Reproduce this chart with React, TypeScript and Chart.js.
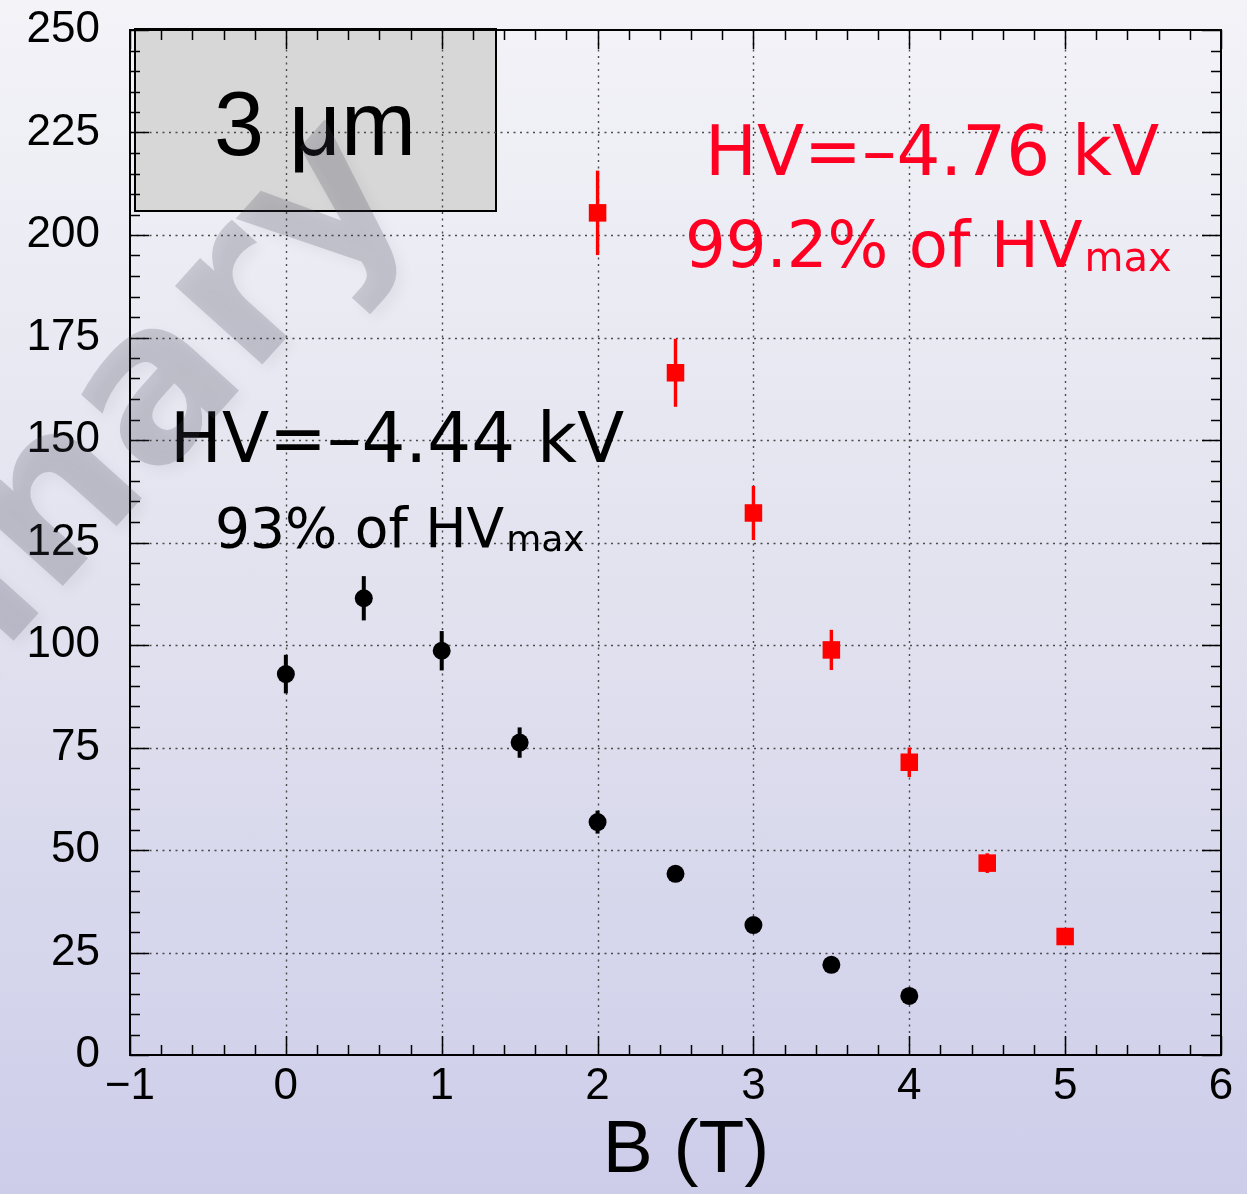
import React, { useEffect, useRef } from 'react';
import { Chart, registerables } from 'chart.js';

Chart.register(...registerables);

// ---- data ----
const blackB = [0, 0.5, 1, 1.5, 2, 2.5, 3, 3.5, 4];
const blackVal = [92.9, 111.4, 98.6, 76.2, 56.8, 44.2, 31.7, 22.0, 14.4];
const blackErr = [4.7, 5.4, 4.8, 3.7, 2.8, 1.8, 1.6, 1.3, 1.1];

const redB = [2, 2.5, 3, 3.5, 4, 4.5, 5];
const redVal = [205.4, 166.4, 132.2, 98.8, 71.4, 46.8, 28.9];
const redErr = [10.3, 8.3, 6.6, 4.9, 3.6, 2.4, 2.0];

const xRange = [-1, 6];
const yRange = [0, 250];
const xStep = 1;
const yStep = 25;
const minorDiv = 5;

const xTitle = 'B (T)';
const boxLabel = '3 \u03bcm';
const blackLabel1 = 'HV=\u20134.44 kV';
const blackLabel2 = '93% of HV';
const redLabel1 = 'HV=\u20134.76 kV';
const redLabel2 = '99.2% of HV';
const subLabel = 'max';
const watermark = 'Preliminary';

const TICK_FONT = '"Liberation Sans", Arial, sans-serif';
const ANN_FONT = '"DejaVu Sans", sans-serif';

const decorPlugin = {
  id: 'decor',
  beforeDatasetsDraw(chart: any) {
    const { ctx, chartArea: ca, scales } = chart;
    const x = scales.x;
    const y = scales.y;
    ctx.save();
    // label box
    ctx.fillStyle = '#d7d7d7';
    ctx.fillRect(ca.left + 5, ca.top - 1, 361, 182);
    ctx.strokeStyle = '#000';
    ctx.lineWidth = 2;
    ctx.strokeRect(ca.left + 5, ca.top - 1, 361, 182);

    // dotted grid
    ctx.strokeStyle = '#4a4a4a';
    ctx.lineWidth = 1.4;
    ctx.setLineDash([2, 4.5]);
    for (let v = xRange[0] + xStep; v < xRange[1]; v += xStep) {
      const px = Math.round(x.getPixelForValue(v)) + 0.5;
      ctx.beginPath();
      ctx.moveTo(px, ca.top);
      ctx.lineTo(px, ca.bottom);
      ctx.stroke();
    }
    for (let v = yRange[0] + yStep; v < yRange[1]; v += yStep) {
      const py = Math.round(y.getPixelForValue(v)) + 0.5;
      ctx.beginPath();
      ctx.moveTo(ca.left, py);
      ctx.lineTo(ca.right, py);
      ctx.stroke();
    }
    ctx.setLineDash([]);

    // error bars
    const drawErr = (xs: number[], vs: number[], es: number[], color: string, w: number) => {
      ctx.strokeStyle = color;
      ctx.lineWidth = w;
      xs.forEach((xv, i) => {
        const px = x.getPixelForValue(xv);
        ctx.beginPath();
        ctx.moveTo(px, y.getPixelForValue(vs[i] - es[i]));
        ctx.lineTo(px, y.getPixelForValue(vs[i] + es[i]));
        ctx.stroke();
      });
    };
    drawErr(blackB, blackVal, blackErr, '#000', 4);
    drawErr(redB, redVal, redErr, '#ff0000', 3.4);
    ctx.restore();
  },
  afterDatasetsDraw(chart: any) {
    const { ctx, chartArea: ca, scales } = chart;
    const x = scales.x;
    const y = scales.y;
    ctx.save();
    ctx.strokeStyle = '#000';
    ctx.lineWidth = 1.5;
    const major = 19;
    const minor = 10;
    const xMinorStep = xStep / minorDiv;
    for (let k = 0; k <= Math.round((xRange[1] - xRange[0]) / xMinorStep); k++) {
      const v = xRange[0] + k * xMinorStep;
      const len = k % minorDiv === 0 ? major : minor;
      const px = Math.round(x.getPixelForValue(v)) + 0.5;
      ctx.beginPath();
      ctx.moveTo(px, ca.bottom);
      ctx.lineTo(px, ca.bottom - len);
      ctx.moveTo(px, ca.top);
      ctx.lineTo(px, ca.top + len);
      ctx.stroke();
    }
    const yMinorStep = yStep / minorDiv;
    for (let k = 0; k <= Math.round((yRange[1] - yRange[0]) / yMinorStep); k++) {
      const v = yRange[0] + k * yMinorStep;
      const len = k % minorDiv === 0 ? major : minor;
      const py = Math.round(y.getPixelForValue(v)) + 0.5;
      ctx.beginPath();
      ctx.moveTo(ca.left, py);
      ctx.lineTo(ca.left + len, py);
      ctx.moveTo(ca.right, py);
      ctx.lineTo(ca.right - len, py);
      ctx.stroke();
    }
    // frame
    ctx.lineWidth = 2;
    ctx.strokeRect(ca.left, ca.top, ca.right - ca.left, ca.bottom - ca.top);

    // box text
    ctx.fillStyle = '#000';
    ctx.textAlign = 'center';
    ctx.textBaseline = 'alphabetic';
    ctx.font = `90px ${TICK_FONT}`;
    ctx.fillText(boxLabel, ca.left + 5 + 180, ca.top + 125);

    // axis title
    ctx.font = `75px ${TICK_FONT}`;
    ctx.fillText(xTitle, 686, ca.bottom + 117);

    // annotations
    ctx.textAlign = 'left';
    const withSub = (main: string, sub: string, px: number, py: number, size: number, subSize: number, color: string) => {
      ctx.fillStyle = color;
      ctx.font = `${size}px ${ANN_FONT}`;
      ctx.fillText(main, px, py);
      const w = ctx.measureText(main).width;
      ctx.font = `${subSize}px ${ANN_FONT}`;
      ctx.fillText(sub, px + w + 2, py + 4);
    };
    ctx.fillStyle = '#000';
    ctx.font = `69px ${ANN_FONT}`;
    ctx.fillText(blackLabel1, 170, 462);
    withSub(blackLabel2, subLabel, 215, 547, 55, 36, '#000');

    ctx.fillStyle = '#ff0022';
    ctx.font = `69px ${ANN_FONT}`;
    ctx.fillText(redLabel1, 705, 175);
    withSub(redLabel2, subLabel, 685, 267, 64, 40, '#ff0022');
    ctx.restore();
  },
  afterDraw(chart: any) {
    const { ctx } = chart;
    ctx.save();
    ctx.translate(415, 195);
    ctx.rotate(-48 * Math.PI / 180);
    ctx.font = `bold 215px ${ANN_FONT}`;
    ctx.textAlign = 'right';
    ctx.textBaseline = 'alphabetic';
    ctx.shadowColor = 'rgba(0,0,0,0.22)';
    ctx.shadowBlur = 14;
    ctx.shadowOffsetX = 6;
    ctx.shadowOffsetY = 6;
    ctx.fillStyle = 'rgba(70,70,85,0.22)';
    ctx.fillText(watermark, 0, 0);
    ctx.restore();
  },
};

export default function App() {
  const ref = useRef<HTMLCanvasElement | null>(null);
  useEffect(() => {
    if (!ref.current) return;
    const chart = new Chart(ref.current, {
      type: 'scatter',
      data: {
        datasets: [
          {
            data: blackB.map((b, i) => ({ x: b, y: blackVal[i] })),
            pointStyle: 'circle',
            pointRadius: 9,
            backgroundColor: '#000',
            borderWidth: 0,
            showLine: false,
          },
          {
            data: redB.map((b, i) => ({ x: b, y: redVal[i] })),
            pointStyle: 'rect',
            pointRadius: 12.4,
            backgroundColor: '#ff0000',
            borderWidth: 0,
            showLine: false,
          },
        ],
      },
      options: {
        animation: false,
        responsive: false,
        events: [],
        layout: { padding: { top: 30, right: 26, left: 0, bottom: 0 } },
        plugins: { legend: { display: false }, tooltip: { enabled: false } },
        scales: {
          x: {
            type: 'linear',
            min: xRange[0],
            max: xRange[1],
            grid: { display: false, drawTicks: false },
            border: { display: false },
            ticks: {
              stepSize: xStep,
              autoSkip: false,
              maxRotation: 0,
              padding: 5,
              color: '#000',
              font: { family: TICK_FONT, size: 44 },
              callback: (v: any) => String(v).replace('-', '\u2212'),
            },
            afterFit: (s: any) => { s.height = 139; s.paddingLeft = 0; s.paddingRight = 0; },
          },
          y: {
            type: 'linear',
            min: yRange[0],
            max: yRange[1],
            grid: { display: false, drawTicks: false },
            border: { display: false },
            ticks: {
              stepSize: yStep,
              autoSkip: false,
              padding: 30,
              color: '#000',
              font: { family: TICK_FONT, size: 44 },
            },
            afterFit: (s: any) => { s.width = 130; s.paddingTop = 0; s.paddingBottom = 0; },
          },
        },
      },
      plugins: [decorPlugin],
    });
    return () => chart.destroy();
  }, []);
  return (
    <div
      style={{
        position: 'absolute',
        left: 0,
        top: 0,
        width: 1247,
        height: 1194,
        background: 'linear-gradient(to bottom, #f3f3f8 0%, #e2e2ef 50%, #cdcdea 100%)',
      }}
    >
      <canvas ref={ref} width={1247} height={1194} style={{ display: 'block' }} />
    </div>
  );
}
